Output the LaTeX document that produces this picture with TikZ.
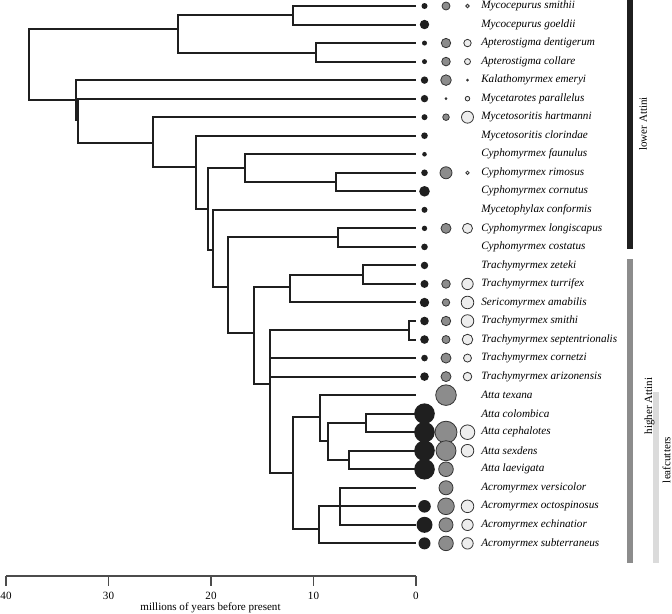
\documentclass[tikz,border=0pt]{standalone}
\usepackage{fontspec}
\setmainfont{Liberation Serif}

\begin{document}
\begin{tikzpicture}[
  x=0.75pt, y=-0.75pt, font=\fontsize{8.3}{10}\selectfont,
  branch/.style={draw=black!88,line width=1.5pt},
  tip/.style={anchor=west,inner sep=0pt,font=\fontsize{8.4}{10}\selectfont\itshape},
  bdot/.style={fill=black!88},
  gdot/.style={draw=black!80,fill=black!45,line width=0.6pt},
  ldot/.style={draw=black!80,fill=black!7,line width=0.6pt},
  bar/.style={line width=4.5pt},
  ax/.style={draw=black!70,line width=0.8pt},
]
\useasboundingbox (0,0) rectangle (672,614);

% ---- tips and species names ----
\foreach \i/\sp in {0/Mycocepurus smithii, 1/Mycocepurus goeldii,
  2/Apterostigma dentigerum, 3/Apterostigma collare, 4/Kalathomyrmex emeryi,
  5/Mycetarotes parallelus, 6/Mycetosoritis hartmanni, 7/Mycetosoritis clorindae,
  8/Cyphomyrmex faunulus, 9/Cyphomyrmex rimosus, 10/Cyphomyrmex cornutus,
  11/Mycetophylax conformis, 12/Cyphomyrmex longiscapus, 13/Cyphomyrmex costatus,
  14/Trachymyrmex zeteki, 15/Trachymyrmex turrifex, 16/Sericomyrmex amabilis,
  17/Trachymyrmex smithi, 18/Trachymyrmex septentrionalis, 19/Trachymyrmex cornetzi,
  20/Trachymyrmex arizonensis, 21/Atta texana, 22/Atta colombica,
  23/Atta cephalotes, 24/Atta sexdens, 25/Atta laevigata,
  26/Acromyrmex versicolor, 27/Acromyrmex octospinosus, 28/Acromyrmex echinatior,
  29/Acromyrmex subterraneus}{
  \coordinate (t\i) at (416,{6+18.53*\i});
  \node[tip] (s\i) at (481,{6+18.53*\i}) {\sp};
}

% ---- internal nodes (x = age, y = attachment) ----
\coordinate (root) at (29,64);
\coordinate (nA) at (178,29.3);
\coordinate (nMyc) at (292.7,15.3);
\coordinate (nApt) at (315.7,52.7);
\coordinate (nB1) at (76.3,100);
\coordinate (nB2) at (78.3,120);
\coordinate (nC) at (153.3,143.3);
\coordinate (nD) at (196.3,167.3);
\coordinate (nE) at (208,209.3);
\coordinate (nF) at (245,167.7);
\coordinate (nF2) at (336,181.5);
\coordinate (nG) at (212.7,250);
\coordinate (nH) at (228,287.3);
\coordinate (nI) at (337.7,237.3);
\coordinate (nJ) at (254,332.7);
\coordinate (nK) at (290,287);
\coordinate (nK2) at (363,275);
\coordinate (nL) at (270.3,384.3);
\coordinate (nM) at (409,330.3);
\coordinate (nN) at (293,473);
\coordinate (nO) at (319.7,417.3);
\coordinate (nP) at (319,528.7);
\coordinate (nQ) at (328,441.3);
\coordinate (nQ1) at (366,422.9);
\coordinate (nQ2) at (348.7,459.9);
\coordinate (nP1) at (340.3,505.7);

% ---- branches ----
\foreach \p/\c in {root/nA, root/nB1, nA/nMyc, nA/nApt, nMyc/t0, nMyc/t1,
  nApt/t2, nApt/t3, nB1/t4, nB1/nB2, nB2/t5, nB2/nC, nC/t6, nC/nD,
  nD/t7, nD/nE, nE/nF, nE/nG, nF/t8, nF/nF2, nF2/t9, nF2/t10,
  nG/t11, nG/nH, nH/nI, nH/nJ, nI/t12, nI/t13, nJ/nK, nJ/nL,
  nK/nK2, nK/t16, nK2/t14, nK2/t15, nL/nM, nL/t19, nL/t20, nL/nN,
  nM/t17, nM/t18, nN/nO, nN/nP, nO/t21, nO/nQ, nQ/nQ1, nQ/nQ2,
  nQ1/t22, nQ1/t23, nQ2/t24, nQ2/t25, nP/nP1, nP/t29,
  nP1/t26, nP1/t27, nP1/t28}{
  \draw[branch] (\p) |- (\c);
}

% ---- trait circles: three columns ----
\foreach \i/\r in {0/3, 1/4.7, 2/2.5, 3/2.5, 4/3.7, 5/3.7, 6/3, 7/3.3, 8/2.3,
  9/3.3, 10/5.3, 11/3, 12/2.7, 13/3.3, 14/3.7, 15/4, 16/4.7, 17/4.3, 18/4.3,
  19/3.3, 20/4.3, 22/10.3, 23/10.3, 24/10.3, 25/10.3, 27/6.3, 28/8, 29/6}{
  \fill[bdot] (t\i) ++(8.5,0) circle[radius={0.75pt*\r}];
}
\foreach \i/\r in {0/4, 2/4.7, 3/4.3, 4/5.3, 5/0.9, 6/3.3, 9/6, 12/5, 15/4.3,
  16/3.7, 17/4.7, 18/4, 19/5, 20/5, 21/10.3, 23/11, 24/10, 25/7.3, 26/7,
  27/8.3, 28/7, 29/7.3}{
  \draw[gdot] (t\i) ++(30,0) circle[radius={0.75pt*\r}];
}
\foreach \i/\r in {0/1.7, 2/3.7, 3/3, 4/0.9, 5/2.3, 6/6, 9/1.7, 12/5, 15/5.7,
  16/6.3, 17/6.3, 18/5.3, 19/4, 20/4.3, 23/7.3, 24/6.3, 27/6.3, 28/5.7, 29/5.7}{
  \draw[ldot] (t\i) ++(51.5,0) circle[radius={0.75pt*\r}];
}

% ---- group bars ----
\draw[bar,black!88] (630,0) -- (630,249);
\draw[bar,black!45] (630,259) -- (630,563);
\draw[bar,black!14] (656.3,392) -- (656.3,563);
\node[rotate=90] (lower) at (643,124) {lower Attini};
\node[rotate=90] (higher) at (649.5,406) {higher Attini};
\node[rotate=90] (leaf) at (666.5,460) {leafcutters};

% ---- time axis ----
\draw[ax] (6,576) -- (416,576);
\foreach \t in {0,10,20,30,40}{
  \draw[ax] ({416-10.25*\t},576) -- ++(0,10);
  \node (tick\t) at ({416-10.25*\t},595.5) {\t};
}
\node (axtitle) at (210.5,608) {millions of years before present};
\end{tikzpicture}
\end{document}
